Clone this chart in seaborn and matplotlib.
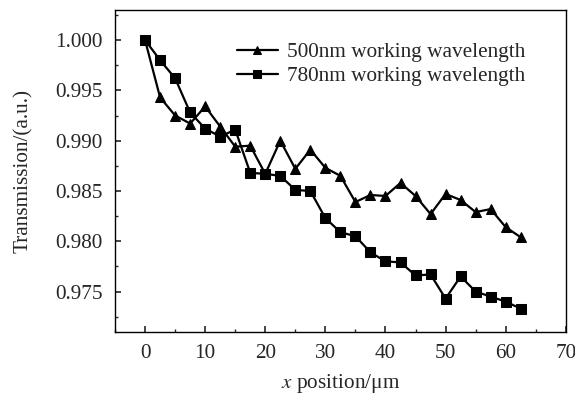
import matplotlib
matplotlib.use("Agg")
import matplotlib.pyplot as plt
from matplotlib.ticker import MultipleLocator
import seaborn as sns
import pandas as pd
import numpy as np

x_pos = [0, 2.5, 5, 7.5, 10, 12.5, 15, 17.5, 20, 22.5, 25, 27.5, 30, 32.5,
         35, 37.5, 40, 42.5, 45, 47.5, 50, 52.5, 55, 57.5, 60, 62.5]
t500 = [1.000, 0.9943, 0.9925, 0.9917, 0.9934, 0.9914, 0.9894, 0.9895, 0.9867,
        0.9900, 0.9872, 0.9891, 0.9873, 0.9865, 0.9839, 0.9846, 0.9845, 0.9858,
        0.9845, 0.9827, 0.9847, 0.9841, 0.9829, 0.9832, 0.9814, 0.9804]
t780 = [1.000, 0.9980, 0.9962, 0.9928, 0.9912, 0.9904, 0.9911, 0.9868, 0.9867,
        0.9865, 0.9851, 0.9850, 0.9823, 0.9809, 0.9805, 0.9789, 0.9780, 0.9779,
        0.9766, 0.9767, 0.9743, 0.9765, 0.9750, 0.9745, 0.9740, 0.9733]
labels = ["500nm working wavelength", "780nm working wavelength"]
x_ticks = [0, 10, 20, 30, 40, 50, 60, 70]
y_ticks = [0.975, 0.980, 0.985, 0.990, 0.995, 1.000]

df = pd.DataFrame({
    "x": x_pos * 2,
    "T": t500 + t780,
    "series": [labels[0]] * len(x_pos) + [labels[1]] * len(x_pos),
})

sns.set_style("ticks")
plt.rcParams["font.family"] = ["Liberation Serif", "DejaVu Serif"]
plt.rcParams["mathtext.fontset"] = "stix"

FS = 15.3
fig = plt.figure(figsize=(5.75, 3.95), dpi=100)
ax = fig.add_axes([0.2, 0.16, 0.784, 0.815])

sns.lineplot(data=df, x="x", y="T", hue="series", style="series",
             palette=["black", "black"], markers={labels[0]: "^", labels[1]: "s"},
             dashes=False, markersize=6.8, linewidth=1.6, markeredgecolor="black",
             ax=ax)

ax.set_xlim(-5, 70)
ax.set_ylim(0.971, 1.003)
ax.set_xticks(x_ticks)
ax.set_yticks(y_ticks)
ax.set_yticklabels([f"{v:.3f}" for v in y_ticks])
ax.xaxis.set_minor_locator(MultipleLocator(5))
ax.yaxis.set_minor_locator(MultipleLocator(0.0025))
ax.tick_params(which="major", direction="in", length=4, width=1.2, labelsize=FS,
               top=False, right=False, pad=9)
ax.tick_params(which="minor", direction="in", length=2.5, width=1.0,
               top=False, right=False)
for s in ax.spines.values():
    s.set_linewidth(1.0)
    s.set_color("black")

ax.set_xlabel("$x$ position/μm", fontsize=FS, labelpad=6)
ax.set_ylabel("Transmission/(a.u.)", fontsize=FS, labelpad=16)

leg = ax.legend(loc="upper left", bbox_to_anchor=(0.27, 0.90), frameon=False,
                fontsize=FS, handlelength=1.93, handletextpad=0.42,
                labelspacing=0.22, borderaxespad=0, borderpad=0, markerscale=0.85)

fig.savefig("out.png", dpi=100)
